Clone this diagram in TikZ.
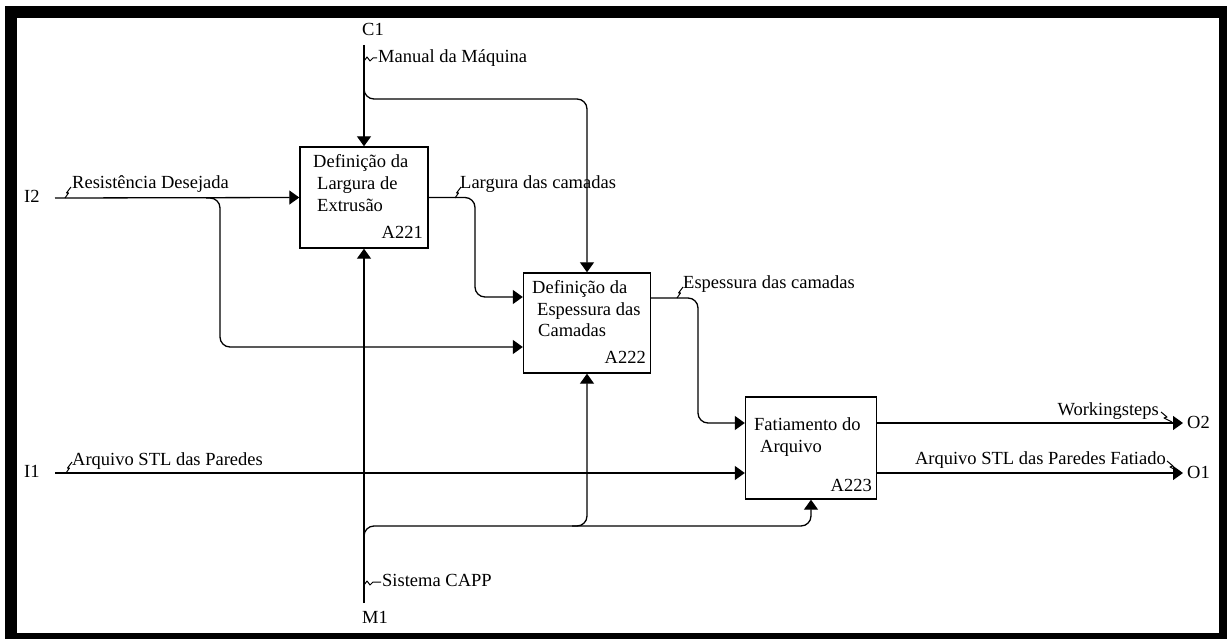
\documentclass[tikz,border=0pt]{standalone}
\usepackage{fontspec}
\setmainfont{Liberation Serif}
\usetikzlibrary{arrows.meta,calc}
\begin{document}
\begin{tikzpicture}[x=1pt,y=-1pt,
  font=\fontsize{18.5}{22}\selectfont,
  activity/.style={draw,line width=1.4pt,minimum width=128pt,minimum height=101pt,inner sep=0pt},
  flow/.style={line width=1.3pt,rounded corners=10pt},
  arr/.style={-{Triangle[length=10pt,width=14pt]}},
  txt/.style={inner sep=0pt,anchor=base west},
  code/.style={inner sep=0pt,anchor=base east},
  tick/.style={line width=1pt,line join=round},
]
\useasboundingbox (0,0) rectangle (1227,639);
% heavy frame
\fill[black] (5,6) rectangle (1227,639);
\fill[white] (17,18) rectangle (1219,633);

% activity boxes
\node[activity] (a1) at (364,197.5) {};
\node[activity,minimum width=127pt,minimum height=100pt] (a2) at (587,323) {};
\node[activity,minimum width=131pt,minimum height=102pt] (a3) at (811,448) {};

% box texts
\node[txt] (a1l1) at (313,168) {Definição da};
\node[txt] (a1l2) at (317,190) {Largura de};
\node[txt] (a1l3) at (317,212) {Extrusão};
\node[code] (a1c) at (423,239) {A221};
\node[txt] (a2l1) at (532,294) {Definição da};
\node[txt] (a2l2) at (537,316) {Espessura das};
\node[txt] (a2l3) at (538,337) {Camadas};
\node[code] (a2c) at (646,363) {A222};
\node[txt] (a3l1) at (754,430) {Fatiamento do};
\node[txt] (a3l2) at (760,452) {Arquivo};
\node[code] (a3c) at (872,491) {A223};

% boundary arrow ends
\coordinate (c1) at (364,45);
\coordinate (m1) at (364,603);
\coordinate (i2) at (55,198);
\coordinate (i1) at (55,473);
\coordinate (o2) at (1183,423);
\coordinate (o1) at (1183,473);
\coordinate (c1b) at (364,89);
\coordinate (i2b) at (206,198);
\coordinate (m1b) at (364,537);
\coordinate (m1j) at (572,526);

% boundary labels
\node[txt] (c1t) at (362,36) {C1};
\node[txt] (m1t) at (362,623) {M1};
\node[txt] (i2t) at (24,203) {I2};
\node[txt] (i1t) at (24,477) {I1};
\node[txt] (o2t) at (1187,428) {O2};
\node[txt] (o1t) at (1187,478) {O1};

% controls
\draw[flow,arr] (c1) -- (a1.north);
\draw[flow,arr] (c1b) |- (a2.north |- 0,99) -- (a2.north);

% inputs
\draw[flow,arr] (i2) -- (a1.west);
\draw[flow,arr] (i2b) -| (220,347) -- ($(a2.west)+(0,24)$);
\draw[flow,arr] (a1.east) -| (475,297) -- ($(a2.west)+(0,-26)$);
\draw[flow,arr] ($(a2.east)+(0,-25)$) -| (698,423) -- ($(a3.west)+(0,-25)$);
\draw[flow,arr] (i1) -- ($(a3.west)+(0,25)$);

% mechanisms
\draw[flow,arr] (m1) -- (a1.south);
\draw[flow,arr] (m1b) |- (a3.south |- 0,526) -- (a3.south);
\draw[flow,arr] (m1j) -| (a2.south);

% outputs
\draw[flow,arr] ($(a3.east)+(0,-25)$) -- (o2);
\draw[flow,arr] ($(a3.east)+(0,25)$) -- (o1);

% arrow labels
\node[txt] (lman) at (378,63) {Manual da Máquina};
\node[txt] (lres) at (72,189) {Resistência Desejada};
\node[txt] (llar) at (460,189) {Largura das camadas};
\node[txt] (lesp) at (683,289) {Espessura das camadas};
\node[txt] (lstl) at (72,465) {Arquivo STL das Paredes};
\node[txt] (lcap) at (382,586) {Sistema CAPP};
\node[inner sep=0pt,anchor=base east] (lwor) at (1159,415) {Workingsteps};
\node[inner sep=0pt,anchor=base east] (lfat) at (1166,464) {Arquivo STL das Paredes Fatiado};

% label squiggles
\draw[tick] (364,61) -- (367,57) -- (370,61) -- (373,58) -- (377,58);
\draw[tick] (364,585) -- (367,581) -- (370,585) -- (373,582) -- (381,582);
\draw[tick] (65,198) -- (68.5,193) -- (66.5,193) -- (71,187);
\draw[tick] (455,198) -- (458.5,193) -- (456.5,193) -- (461,187);
\draw[tick] (677,298) -- (680.5,293) -- (678.5,293) -- (683,287);
\draw[tick] (66,473) -- (69.5,468) -- (67.5,468) -- (72,462);
\draw[tick] (1161,412) -- (1167,417) -- (1164,418) -- (1172,422);
\draw[tick] (1167,461) -- (1173,466) -- (1170,467) -- (1178,471);
\end{tikzpicture}
\end{document}
